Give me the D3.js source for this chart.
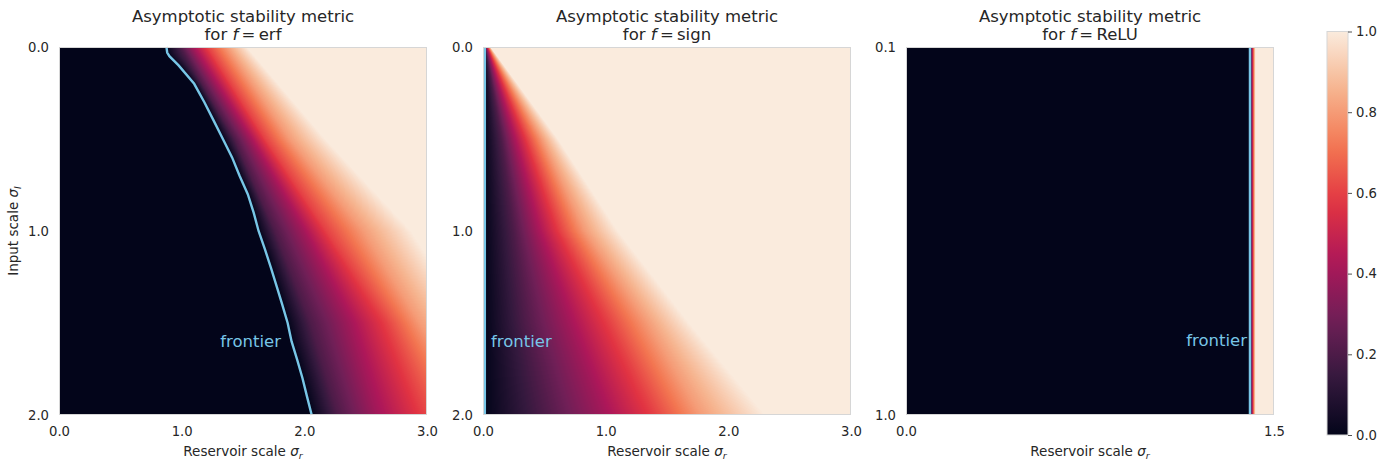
<!DOCTYPE html>
<html>
<head>
<meta charset="utf-8">
<script src="https://cdn.jsdelivr.net/npm/d3@7"></script>
<style>
  body { margin: 0; background: #fff; }
  svg text { font-family: "DejaVu Sans", sans-serif; fill: #262626; }
  .tick text { font-size: 13.2px; }
</style>
</head>
<body>
<div id="chart"></div>
<script>
// ── Data ──
const levels = [0, 0.2, 0.4, 0.6, 0.8, 1.0];

// erf: frontier line, and x where the metric reaches 0.2 .. 1.0 on a few rows
const erfFrontierY = [0, 0.03, 0.05, 0.1, 0.2, 0.3, 0.4, 0.5, 0.6, 0.7, 0.8, 0.9, 1.0, 1.1, 1.2, 1.3, 1.4, 1.5, 1.6, 1.7, 1.8, 1.9, 2.0];
const erfFrontierX = [0.876, 0.882, 0.9, 0.975, 1.102, 1.185, 1.261, 1.336, 1.411, 1.472, 1.539, 1.587, 1.627, 1.679, 1.728, 1.774, 1.82, 1.864, 1.896, 1.942, 1.985, 2.022, 2.06];
const erfRowsY = [0, 0.5, 1.0, 1.5, 2.0];
const erfLevelX = [
  [0.99, 1.09, 1.21, 1.37, 1.53],
  [1.43, 1.56, 1.68, 1.88, 2.17],
  [1.76, 1.99, 2.18, 2.48, 2.87],
  [2.05, 2.37, 2.67, 2.94, 3.35],
  [2.27, 2.59, 2.98, 3.40, 3.90]
];

// sign
const signFrontierY = [0, 2.0];
const signFrontierX = [0.015, 0.015];
const signRowsY = [0, 0.5, 1.0, 1.5, 2.0];
const signLevelX = [
  [0.02, 0.03, 0.04, 0.05, 0.06],
  [0.15, 0.25, 0.36, 0.48, 0.61],
  [0.25, 0.44, 0.63, 0.83, 1.10],
  [0.34, 0.70, 1.03, 1.34, 1.68],
  [0.50, 0.98, 1.40, 1.77, 2.30]
];

// ReLU
const reluFrontierY = [0.1, 1.0];
const reluFrontierX = [1.402, 1.402];
const reluRowsY = [0.1, 1.0];
const reluLevelX = [
  [1.407, 1.411, 1.415, 1.419, 1.425],
  [1.407, 1.411, 1.415, 1.419, 1.425]
];

// tick labels
const erfXTicks = [0, 1, 2, 3], erfYTicks = [0, 1, 2];
const signXTicks = [0, 1, 2, 3], signYTicks = [0, 1, 2];
const reluXTicks = [0, 1.5], reluYTicks = [0.1, 1.0];
const cbarTicks = [0, 0.2, 0.4, 0.6, 0.8, 1.0];

// seaborn "rocket"
const rocketStops = ["#03051a", "#35193e", "#701f57", "#ad1759", "#e13342", "#f37651", "#f6b48f", "#faebdd"];

// ── Layout ──
const W = 1398, H = 466;
const TOP = 47, PW = 368, PH = 368;
const lineColor = "#78c6e7";

const panels = [
  { fname: "erf", left: 59, xDomain: [0, 3], yDomain: [0, 2], xTicks: erfXTicks, yTicks: erfYTicks,
    fx: erfFrontierX, fy: erfFrontierY, rowsY: erfRowsY, levelX: erfLevelX,
    label: { x: 1.81, y: 1.6, anchor: "end" } },
  { fname: "sign", left: 483, xDomain: [0, 3], yDomain: [0, 2], xTicks: signXTicks, yTicks: signYTicks,
    fx: signFrontierX, fy: signFrontierY, rowsY: signRowsY, levelX: signLevelX,
    label: { x: 0.065, y: 1.6, anchor: "start" } },
  { fname: "ReLU", left: 906, xDomain: [0, 1.5], yDomain: [0.1, 1.0], xTicks: reluXTicks, yTicks: reluYTicks,
    fx: reluFrontierX, fy: reluFrontierY, rowsY: reluRowsY, levelX: reluLevelX,
    label: { x: 1.39, y: 0.817, anchor: "end" } }
];

const cmap = d3.scaleLinear()
  .domain(rocketStops.map((_, i) => i / (rocketStops.length - 1)))
  .range(rocketStops)
  .interpolate(d3.interpolateRgb)
  .clamp(true);
const lut = d3.range(256).map(i => d3.rgb(cmap(i / 255)));

const svg = d3.select("#chart").append("svg")
  .attr("width", W).attr("height", H);

const fmt = d3.format(".1f");

panels.forEach((p, pi) => {
  const x = d3.scaleLinear().domain(p.xDomain).range([p.left, p.left + PW]);
  const y = d3.scaleLinear().domain(p.yDomain).range([TOP, TOP + PH]);

  // ── Heatmap image ──
  const frontAt = d3.scaleLinear().domain(p.fy).range(p.fx).clamp(true);
  const levelAt = levels.slice(1).map((_, k) =>
    d3.scaleLinear().domain(p.rowsY).range(p.levelX.map(r => r[k])).clamp(true));

  const cv = document.createElement("canvas");
  cv.width = PW; cv.height = PH;
  const ctx = cv.getContext("2d");
  const img = ctx.createImageData(PW, PH);
  for (let py = 0; py < PH; py++) {
    const yv = y.invert(TOP + py + 0.5);
    const stops = [frontAt(yv)].concat(levelAt.map(f => f(yv)));
    const val = d3.scaleLinear().domain(stops).range(levels).clamp(true);
    for (let px = 0; px < PW; px++) {
      const xv = x.invert(p.left + px + 0.5);
      const c = lut[Math.round(val(xv) * 255)];
      const o = (py * PW + px) * 4;
      img.data[o] = c.r; img.data[o + 1] = c.g; img.data[o + 2] = c.b; img.data[o + 3] = 255;
    }
  }
  ctx.putImageData(img, 0, 0);

  const g = svg.append("g");
  g.append("image")
    .attr("x", p.left).attr("y", TOP)
    .attr("width", PW).attr("height", PH)
    .attr("preserveAspectRatio", "none")
    .attr("href", cv.toDataURL());

  // frontier line
  const pts = p.fy.map((yy, i) => [p.fx[i], yy]);
  g.append("path")
    .attr("d", d3.line().x(d => x(d[0])).y(d => y(d[1]))(pts))
    .attr("fill", "none")
    .attr("stroke", lineColor)
    .attr("stroke-width", 2.4);

  g.append("text")
    .attr("x", x(p.label.x)).attr("y", y(p.label.y))
    .attr("dy", "0.35em")
    .attr("text-anchor", p.label.anchor)
    .style("fill", lineColor)
    .style("font-size", "16.5px")
    .text("frontier");

  // frame
  g.append("rect")
    .attr("x", p.left + 0.5).attr("y", TOP + 0.5)
    .attr("width", PW - 1).attr("height", PH - 1)
    .attr("fill", "none")
    .attr("stroke", "#d6d6d6")
    .attr("stroke-width", 1);

  // ── Axes ──
  const xa = g.append("g")
    .attr("transform", `translate(0,${TOP + PH})`)
    .call(d3.axisBottom(x).tickValues(p.xTicks).tickSize(0).tickPadding(12).tickFormat(fmt));
  xa.select(".domain").remove();

  const ya = g.append("g")
    .attr("transform", `translate(${p.left},0)`)
    .call(d3.axisLeft(y).tickValues(p.yTicks).tickSize(0).tickPadding(10).tickFormat(fmt));
  ya.select(".domain").remove();

  // x label
  const xl = g.append("text")
    .attr("x", p.left + PW / 2).attr("y", 456)
    .attr("text-anchor", "middle")
    .style("font-size", "13.5px");
  xl.append("tspan").text("Reservoir scale ");
  xl.append("tspan").style("font-style", "italic").text("σ");
  xl.append("tspan").style("font-style", "italic").style("font-size", "9.5px").attr("dy", "3").text("r");

  // title
  const cx = p.left + PW / 2;
  g.append("text")
    .attr("x", cx).attr("y", 21.5)
    .attr("text-anchor", "middle")
    .style("font-size", "16.5px")
    .text("Asymptotic stability metric");
  const t2 = g.append("text")
    .attr("x", cx).attr("y", 40)
    .attr("text-anchor", "middle")
    .style("font-size", "16.5px");
  t2.append("tspan").text("for ");
  t2.append("tspan").style("font-style", "italic").text("f");
  t2.append("tspan").text("\u2009=\u2009" + p.fname);

  if (pi === 0) {
    const yl = svg.append("text")
      .attr("transform", `translate(18,${TOP + PH / 2}) rotate(-90)`)
      .attr("text-anchor", "middle")
      .style("font-size", "13.5px");
    yl.append("tspan").text("Input scale ");
    yl.append("tspan").style("font-style", "italic").text("σ");
    yl.append("tspan").style("font-style", "italic").style("font-size", "9.5px").attr("dy", "3").text("I");
  }
});

// ── Colorbar ──
const cbX = 1327, cbW = 21, cbTop = 31.5, cbBot = 435;
const grad = svg.append("defs").append("linearGradient")
  .attr("id", "cbar-grad")
  .attr("x1", 0).attr("y1", 1).attr("x2", 0).attr("y2", 0);
d3.range(0, 1.0001, 0.05).forEach(t => {
  grad.append("stop").attr("offset", t).attr("stop-color", cmap(t));
});
svg.append("rect")
  .attr("x", cbX).attr("y", cbTop)
  .attr("width", cbW).attr("height", cbBot - cbTop)
  .attr("fill", "url(#cbar-grad)")
  .attr("stroke", "#d6d6d6")
  .attr("stroke-width", 1);

const cScale = d3.scaleLinear().domain([0, 1]).range([cbBot, cbTop]);
const ca = svg.append("g")
  .attr("transform", `translate(${cbX + cbW},0)`)
  .call(d3.axisRight(cScale).tickValues(cbarTicks).tickSize(4).tickPadding(4).tickFormat(fmt));
ca.select(".domain").remove();
ca.selectAll(".tick line").attr("stroke", "#262626").attr("stroke-width", 0.8);
</script>
</body>
</html>
